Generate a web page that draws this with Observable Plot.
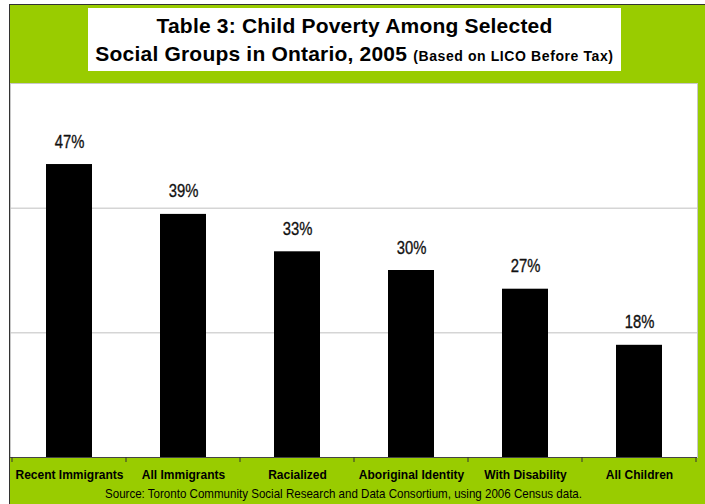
<!DOCTYPE html>
<html>
<head>
<meta charset="utf-8">
<script src="https://cdn.jsdelivr.net/npm/d3@7"></script>
<script src="https://cdn.jsdelivr.net/npm/@observablehq/plot@0.6"></script>
<style>
  html, body { margin: 0; padding: 0; background: #ffffff; }
  #wrap {
    position: absolute; left: 9px; top: 4px; width: 695px; height: 499px;
    background: #99cc00; border-top: 1px solid #333; border-left: 1px solid #333;
    overflow: hidden;
  }
  #title {
    position: absolute; left: 78px; top: 3px; width: 533px; height: 59px;
    background: #ffffff; padding-top: 4px;
    font-family: "Liberation Sans", Arial, sans-serif; font-weight: bold;
    text-align: center; color: #000;
  }
  #title .l1, #title .l2 { font-size: 21px; line-height: 28px; white-space: nowrap; letter-spacing: 0.2px; }
  #title .sub { font-size: 14px; letter-spacing: 0.6px; }
  #chart { position: absolute; left: 0; top: 73px; }
  #source {
    position: absolute; left: 95px; top: 481px;
    font-family: "Liberation Sans", Arial, sans-serif;
    font-size: 13px; line-height: 16px; color: #000; white-space: nowrap;
    transform-origin: 0 50%;
  }
</style>
</head>
<body>
<div id="wrap">
  <div id="title">
    <div class="l1">Table 3: Child Poverty Among Selected</div>
    <div class="l2">Social Groups in Ontario, 2005 <span class="sub">(Based on LICO Before Tax)</span></div>
  </div>
  <div id="chart"></div>
  <span id="source">Source: Toronto Community Social Research and Data Consortium, using 2006 Census data.</span>
</div>
<script>
const categories = ["Recent Immigrants", "All Immigrants", "Racialized", "Aboriginal Identity", "With Disability", "All Children"];
const values = [47, 39, 33, 30, 27, 18];
const valueLabels = ["47%", "39%", "33%", "30%", "27%", "18%"];
const gridValues = [20, 40];
const yMax = 60;

const data = categories.map((c, i) => ({category: c, value: values[i], label: valueLabels[i]}));

function boundaryTicks(index, scales, vals, dims) {
  const x = scales.x;
  const step = typeof x.step === "function" ? x.step() : scales.scales.x.step;
  const bw = typeof x.bandwidth === "function" ? x.bandwidth() : scales.scales.x.bandwidth;
  const y0 = dims.height - dims.marginBottom;
  const xs = categories.map(c => x(c) + bw / 2 - step / 2);
  xs.push(x(categories[categories.length - 1]) + bw / 2 + step / 2);
  const g = d3.create("svg:g").attr("stroke", "#333").attr("stroke-width", 1);
  for (const px of xs) {
    g.append("line").attr("x1", px).attr("x2", px).attr("y1", y0).attr("y2", y0 + 5);
  }
  return g.node();
}

const chart = Plot.plot({
  width: 695,
  height: 403,
  marginTop: 5,
  marginBottom: 24,
  marginLeft: 0,
  marginRight: 8,
  style: {background: "transparent", overflow: "visible"},
  x: {type: "band", domain: categories, paddingInner: 0.6, paddingOuter: 0.3, label: null},
  y: {domain: [0, yMax], label: null},
  marks: [
    Plot.frame({fill: "#ffffff", stroke: "#c8c8c8"}),
    Plot.ruleY(gridValues, {stroke: "#c0c0c0", strokeWidth: 1}),
    Plot.barY(data, {x: "category", y: "value", fill: "#000000"}),
    Plot.text(data, {
      x: "category", y: "value", text: "label", dy: -17, lineAnchor: "bottom",
      fontSize: 18.5, fill: "#111", stroke: "#111", strokeWidth: 0.35,
      fontFamily: "'Liberation Sans', Arial, sans-serif"
    }),
    Plot.ruleY([0], {stroke: "#444", strokeWidth: 1}),
    Plot.axisY({ticks: [], label: null}),
    Plot.axisX({
      tickSize: 0, tickPadding: 12.5, label: null,
      fontSize: 12, fontWeight: "bold", fill: "#000",
      fontFamily: "'Liberation Sans', Arial, sans-serif"
    }),
    boundaryTicks
  ]
});
document.getElementById("chart").appendChild(chart);

// Condense the value labels horizontally (narrow face is not installed)
chart.querySelectorAll("text").forEach(t => {
  if (!valueLabels.includes(t.textContent)) return;
  const tr = t.getAttribute("transform");
  if (tr) {
    t.setAttribute("transform", tr + " scale(0.8,1)");
  } else {
    const x = t.getAttribute("x") || 0;
    t.setAttribute("x", 0);
    t.setAttribute("transform", `translate(${x},0) scale(0.8,1)`);
  }
});

// Condense the source line to the reference's narrow width
const src = document.getElementById("source");
const w = src.getBoundingClientRect().width;
src.style.transform = `scaleX(${477 / w})`;
</script>
</body>
</html>
